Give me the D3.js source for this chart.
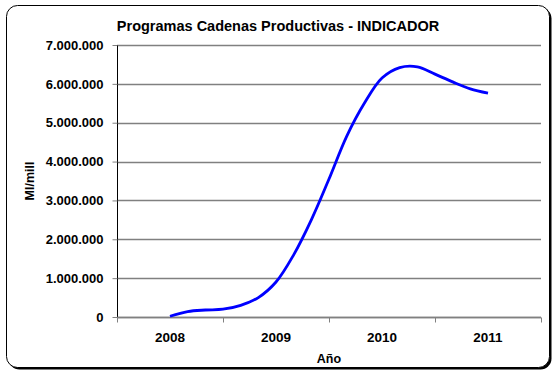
<!DOCTYPE html>
<html>
<head>
<meta charset="utf-8">
<script src="https://cdn.jsdelivr.net/npm/d3@7"></script>
<style>
  html, body { margin: 0; padding: 0; background: #fff; }
  svg { display: block; font-family: "Liberation Sans", Arial, sans-serif; }
</style>
</head>
<body>
<svg id="chart" width="553" height="372"></svg>
<script>
// Años mostrados en el eje horizontal
const years = [2008, 2009, 2010, 2011];
// Periodo de cada observación (año fraccionario, cada dos meses)
const periods = [2008.0, 2008.1667, 2008.3333, 2008.5, 2008.6667, 2008.8333,
                 2009.0, 2009.1667, 2009.3333, 2009.5, 2009.6667, 2009.8333,
                 2010.0, 2010.1667, 2010.3333, 2010.5, 2010.6667, 2010.8333, 2011.0];
// Indicador (Ml/mill)
const values = [20000, 140000, 180000, 200000, 300000, 500000,
                900000, 1600000, 2500000, 3550000, 4650000, 5500000,
                6150000, 6420000, 6440000, 6250000, 6050000, 5870000, 5760000];
// Marcas del eje vertical
const yTicks = [0, 1000000, 2000000, 3000000, 4000000, 5000000, 6000000, 7000000];

const svg = d3.select("#chart");
const plot = { left: 117, right: 541, top: 45, bottom: 317 };

// Marco exterior con sombra
svg.append("rect")
  .attr("x", 8.5).attr("y", 7.5).attr("width", 543).attr("height", 362)
  .attr("rx", 11).attr("fill", "#000");
svg.append("rect")
  .attr("x", 6.5).attr("y", 5.5).attr("width", 543).attr("height", 362)
  .attr("rx", 11).attr("fill", "#fff").attr("stroke", "#000").attr("stroke-width", 1);

const x = d3.scaleLinear().domain([2007.5, 2011.5]).range([plot.left, plot.right]);
const y = d3.scaleLinear().domain([0, 7000000]).range([plot.bottom, plot.top]);

const fmt = v => d3.format(",")(v).replace(/,/g, ".");

// Líneas de cuadrícula
svg.append("g")
  .selectAll("line")
  .data(yTicks)
  .join("line")
  .attr("x1", plot.left).attr("x2", plot.right)
  .attr("y1", d => Math.round(y(d)) + 0.5).attr("y2", d => Math.round(y(d)) + 0.5)
  .attr("stroke", "#808080").attr("stroke-width", 1.4);

// Eje vertical
const yAxis = svg.append("g")
  .attr("transform", `translate(${plot.left + 0.5},0)`)
  .call(d3.axisLeft(y).tickValues(yTicks).tickFormat(fmt).tickSize(5).tickPadding(9))
  .call(g => g.select(".domain").attr("stroke", "#000").attr("d", `M0,${plot.top}V${plot.bottom + 5}`));
yAxis.selectAll(".tick line").attr("stroke", "#808080");
yAxis.selectAll("text")
  .attr("font-size", 13).attr("font-weight", "bold").attr("fill", "#000")
  .attr("font-family", "Liberation Sans, Arial, sans-serif");

// Eje horizontal: marcas en los límites de cada año, etiquetas centradas
const xBounds = d3.range(years[0] - 0.5, years[years.length - 1] + 1, 1);
const xAxis = svg.append("g").attr("transform", `translate(0,${Math.round(y(0)) + 0.5})`);
xAxis.append("path")
  .attr("d", `M${plot.left},0H${plot.right}`)
  .attr("stroke", "#808080").attr("stroke-width", 1.4);
xAxis.selectAll("line.tick")
  .data(xBounds)
  .join("line")
  .attr("class", "tick")
  .attr("x1", d => Math.round(x(d)) + 0.5).attr("x2", d => Math.round(x(d)) + 0.5)
  .attr("y1", 0).attr("y2", 5)
  .attr("stroke", "#808080");
xAxis.selectAll("text")
  .data(years)
  .join("text")
  .attr("x", d => x(d)).attr("y", 24)
  .attr("text-anchor", "middle")
  .attr("font-size", 13.5).attr("font-weight", "bold")
  .text(d => d);

// Serie suavizada
const line = d3.line()
  .x((d, i) => x(periods[i]))
  .y(d => y(d))
  .curve(d3.curveCatmullRom.alpha(0.5));
svg.append("path")
  .datum(values)
  .attr("d", line)
  .attr("fill", "none")
  .attr("stroke", "#0000ff")
  .attr("stroke-width", 2.8)
  .attr("stroke-linejoin", "round");

// Títulos
svg.append("text")
  .attr("x", 278).attr("y", 31)
  .attr("text-anchor", "middle")
  .attr("font-size", 14.5).attr("font-weight", "bold")
  .text("Programas Cadenas Productivas - INDICADOR");

svg.append("text")
  .attr("transform", `translate(34,${(plot.top + plot.bottom) / 2}) rotate(-90)`)
  .attr("text-anchor", "middle")
  .attr("font-size", 12.5).attr("font-weight", "bold")
  .text("Ml/mill");

svg.append("text")
  .attr("x", x(2009.5)).attr("y", 363)
  .attr("text-anchor", "middle")
  .attr("font-size", 12.5).attr("font-weight", "bold")
  .text("Año");
</script>
</body>
</html>
